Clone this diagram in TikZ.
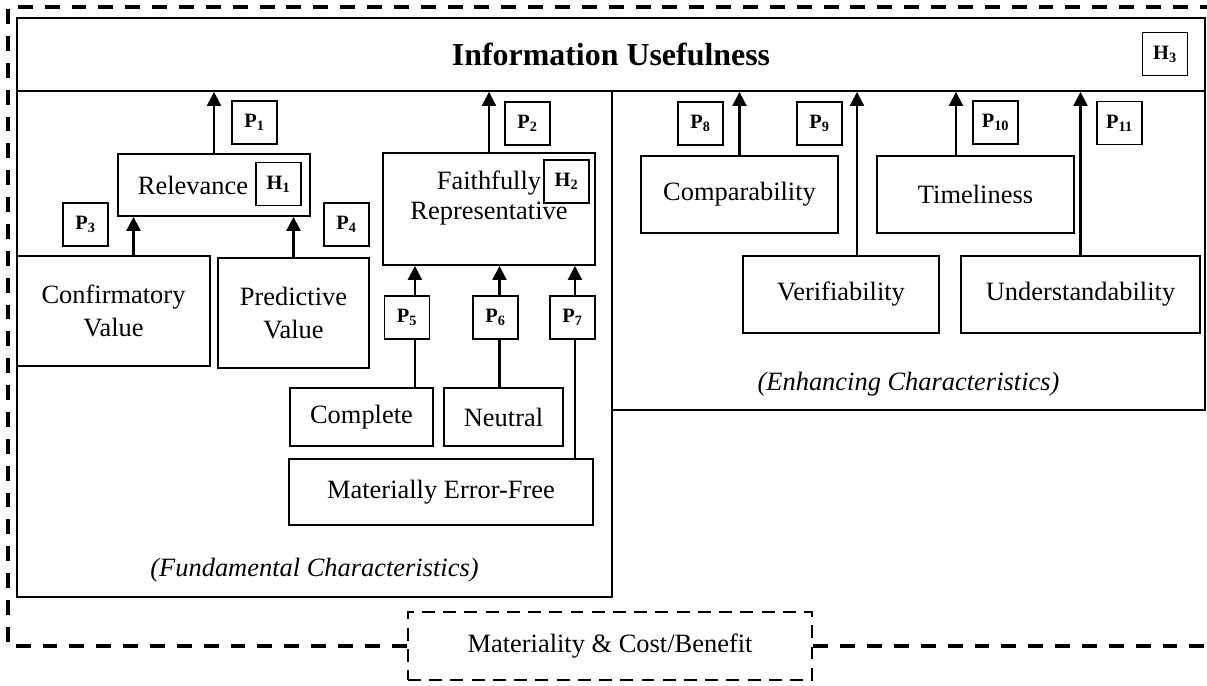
\documentclass[tikz,border=0pt]{standalone}
\usepackage{fontspec}
\setmainfont{Liberation Serif}
\usetikzlibrary{arrows.meta,positioning}

\begin{document}
\begin{tikzpicture}[x=0.025cm, y=-0.025cm,
  font=\fontsize{18.8}{23.4}\selectfont,
  box/.style={rectangle, draw, line width=1.3pt, inner sep=0pt, align=center},
  pbox/.style={rectangle, draw, fill=white, line width=1.2pt, minimum width=1.125cm, minimum height=1.075cm, inner sep=0pt, font=\fontsize{14.5}{16}\selectfont\bfseries},
  arr/.style={-{Triangle[length=10pt,width=10pt]}, line width=1.6pt},
  outerframe/.style={line width=2.4pt, dash pattern=on 10.6pt off 8.5pt},
  matbox/.style={rectangle, draw, line width=1.9pt, dash pattern=on 9.2pt off 5.9pt, inner sep=0pt}]
\useasboundingbox (0,0) rectangle (1207,685);

% Top level
\node[box, minimum width=29.7cm, minimum height=1.825cm] (useful) at (611,54.5) {\fontsize{22.7}{26}\selectfont\bfseries Information Usefulness};

% Fundamental characteristics
\node[box, minimum width=14.875cm, minimum height=12.65cm] (fund) at (314.5,344) {};
\node[font=\fontsize{18.8}{23}\selectfont\itshape] (fundlabel) at (314.5,570) {(Fundamental Characteristics)};

\node[box, minimum width=4.8cm, minimum height=1.55cm] (rel) at (214,185) {};
\node (reltext) at (193,185) {Relevance};
\node[box, minimum width=4.825cm, minimum height=2.75cm] (conf) at (113.5,311) {Confirmatory\\Value};
\node[box, minimum width=3.775cm, minimum height=2.75cm] (pred) at (293.5,313) {Predictive\\Value};

\node[box, minimum width=5.3cm, minimum height=2.8cm] (faith) at (489,209) {};
\node[box, minimum width=3.575cm, minimum height=1.45cm] (compl) at (361.5,417) {Complete};
\node[box, minimum width=2.975cm, minimum height=1.45cm] (neut) at (503.5,417) {Neutral};
\node[box, minimum width=7.6cm, minimum height=1.65cm] (mef) at (441,492) {Materially Error-Free};

% Enhancing characteristics
\node[box, minimum width=14.825cm, minimum height=7.975cm] (enh) at (908.5,250.5) {};
\node[font=\fontsize{18.8}{23}\selectfont\itshape] (enhlabel) at (908.5,384) {(Enhancing Characteristics)};

\node[box, minimum width=4.925cm, minimum height=1.925cm] (comp) at (739.5,194.5) {Comparability};
\node[box, minimum width=4.925cm, minimum height=1.925cm] (time) at (975.5,194.5) {Timeliness};
\node[box, minimum width=4.9cm, minimum height=1.925cm] (verif) at (841,294.5) {Verifiability};
\node[box, minimum width=5.975cm, minimum height=1.925cm] (under) at (1080.5,294.5) {Understandability};

% Arrows
\draw[arr] (rel.north) -- (rel.north |- useful.south);
\draw[arr] ([xshift=0.5cm]conf.north) -- ([xshift=0.5cm]conf.north |- rel.south);
\draw[arr] (pred.north) -- (pred.north |- rel.south);
\draw[arr] (faith.north) -- (faith.north |- useful.south);
\draw[arr] ([xshift=-0.475cm]compl.north east) -- ([xshift=-0.475cm]compl.north east |- faith.south);
\draw[arr] ([xshift=-0.1cm]neut.north) -- ([xshift=-0.1cm]neut.north |- faith.south);
\draw[arr] ([xshift=-0.475cm]mef.north east) -- ([xshift=-0.475cm]mef.north east |- faith.south);
\draw[arr] (comp.north) -- (comp.north |- useful.south);
\draw[arr] ([xshift=0.4cm]verif.north) -- ([xshift=0.4cm]verif.north |- useful.south);
\draw[arr] ([xshift=-0.4875cm]time.north) -- ([xshift=-0.4875cm]time.north |- useful.south);
\draw[arr] (under.north) -- (under.north |- useful.south);

% Hypotheses and propositions
\node[pbox] (h3) at (1165,54) {H\textsubscript{3}};
\node[pbox] (h1) at (278.5,184) {H\textsubscript{1}};
\node[pbox] (h2) at (566.5,181.5) {H\textsubscript{2}};
\node[align=center, font=\fontsize{18.8}{21.5}\selectfont] (faithtext) at (489,198) {Faithfully\\Representative};

\node[pbox] (p1) at (254.5,122.5) {P\textsubscript{1}};
\node[pbox] (p2) at (527.5,123.5) {P\textsubscript{2}};
\node[pbox] (p3) at (85.5,224.5) {P\textsubscript{3}};
\node[pbox] (p4) at (346.5,224.5) {P\textsubscript{4}};
\node[pbox] (p5) at (407,317.5) {P\textsubscript{5}};
\node[pbox] (p6) at (495.5,317.5) {P\textsubscript{6}};
\node[pbox] (p7) at (572.5,317.5) {P\textsubscript{7}};
\node[pbox] (p8) at (700.5,123.5) {P\textsubscript{8}};
\node[pbox] (p9) at (819.5,123.5) {P\textsubscript{9}};
\node[pbox] (p10) at (995.5,122.5) {P\textsubscript{10}};
\node[pbox] (p11) at (1119.5,123) {P\textsubscript{11}};

% Constraint
\node[matbox, minimum width=10.1cm, minimum height=1.7cm] (mat) at (610,646) {Materiality \& Cost/Benefit};
\draw[outerframe] (mat.west) -| (8,7) -- (1207,7);
\draw[outerframe] (mat.east) -- ++(395,0);
\end{tikzpicture}
\end{document}
